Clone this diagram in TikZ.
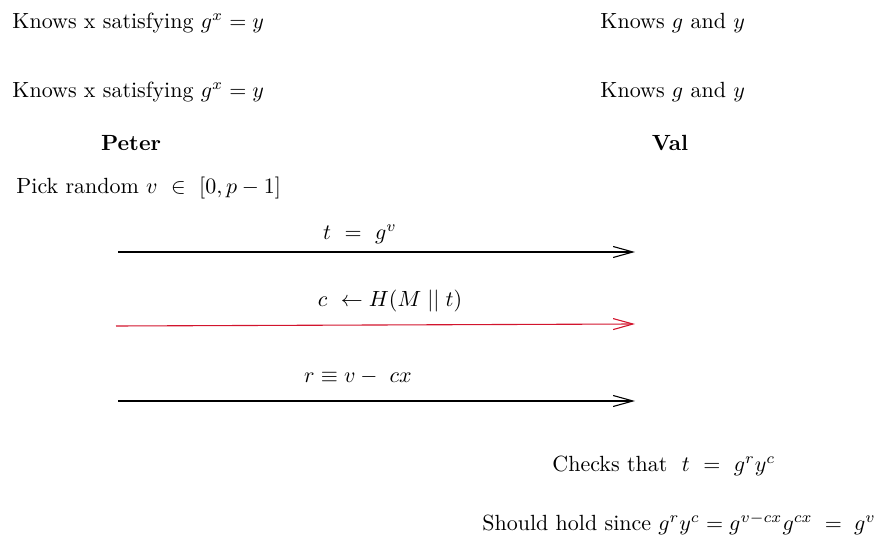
\documentclass[tikz,border=0pt]{standalone}
\usetikzlibrary{arrows.meta}
\definecolor{msgred}{RGB}{210,20,45}
\begin{document}
\begin{tikzpicture}[x=0.455pt,y=-0.455pt,
  txt/.style={inner sep=0pt,anchor=west},
  ctr/.style={inner sep=0pt},
  msg/.style={-{Straight Barb[length=9pt,width=5pt]},line width=0.5pt}]
\useasboundingbox (0,0) rectangle (875,540);
\node[txt] (p1) at (12,23) {Knows x satisfying $g^x = y$};
\node[txt] (v1) at (600,23) {Knows $g$ and $y$};
\node[txt] (p2) at (12,92) {Knows x satisfying $g^x = y$};
\node[txt] (v2) at (600,92) {Knows $g$ and $y$};
\node[ctr] (peter) at (131,143) {\textbf{Peter}};
\node[ctr] (val) at (670,143) {\textbf{Val}};
\node[txt] (pick) at (16,188) {Pick random $v\ \in\ [0,p-1]$};
\coordinate (a1s) at (118,252); \coordinate (a1e) at (635,252);
\coordinate (a2s) at (116,326); \coordinate (a2e) at (635,324);
\coordinate (a3s) at (118,401); \coordinate (a3e) at (635,401);
\draw[msg] (a1s) -- (a1e);
\draw[msg,msgred] (a2s) -- (a2e);
\draw[msg] (a3s) -- (a3e);
\node[ctr] (l1) at (360,234) {$t\ =\ g^v$};
\node[ctr] (l2) at (390,301) {$c\ \leftarrow H(M\;||\;t)$};
\node[ctr] (l3) at (358,377) {$r \equiv v -\ cx$};
\node[txt] (chk) at (552,466) {Checks that\ \ $t\ =\ g^ry^c$};
\node[txt] (hold) at (482,524) {Should hold since $g^ry^c = g^{v-cx}g^{cx}\;=\;g^v$};
\end{tikzpicture}
\end{document}
